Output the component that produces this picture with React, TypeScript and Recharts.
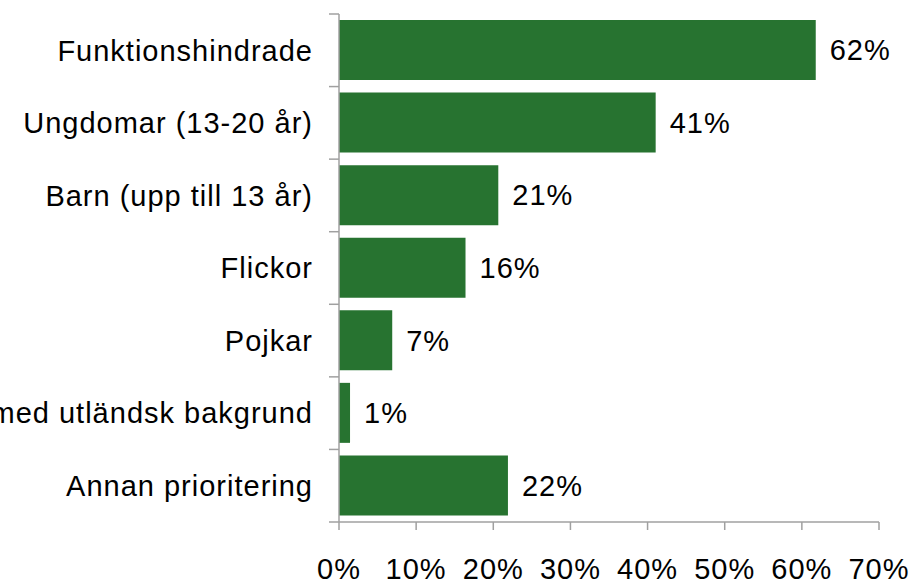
import React from "react";
import { BarChart, Bar, XAxis, YAxis, LabelList } from "recharts";

const categories = [
  "Funktionshindrade",
  "Ungdomar (13-20 år)",
  "Barn (upp till 13 år)",
  "Flickor",
  "Pojkar",
  "Personer med utländsk bakgrund",
  "Annan prioritering",
];
const values = [61.8, 41.05, 20.65, 16.4, 6.9, 1.43, 21.9];
const xTicks = [0, 10, 20, 30, 40, 50, 60, 70];

const data = categories.map((name, i) => ({ name, value: values[i] }));

const FONT = "'Liberation Sans', Arial, Helvetica, sans-serif";
const AXIS = "#a0a0a0";
const textStyle = { fontSize: 29, fill: "#000", fontFamily: FONT, letterSpacing: 1 };
const AXIS_X = 339;

function CategoryTick(props: any) {
  const { x, y, payload, index } = props;
  const half = payload && payload.offset ? payload.offset : 0;
  const last = index === categories.length - 1;
  return (
    <g>
      <line x1={AXIS_X} x2={AXIS_X - 10} y1={y - half} y2={y - half} stroke={AXIS} strokeWidth={1.5} />
      {last ? (
        <line x1={AXIS_X} x2={AXIS_X - 10} y1={y + half} y2={y + half} stroke={AXIS} strokeWidth={1.5} />
      ) : null}
      <text x={x} y={y} dy="0.355em" textAnchor="end" style={textStyle}>
        {payload.value}
      </text>
    </g>
  );
}

export default function App() {
  return (
    <div style={{ position: "absolute", left: 0, top: 0, width: 914, height: 582, background: "#fff" }}>
      <BarChart
        width={914}
        height={582}
        data={data}
        layout="vertical"
        margin={{ top: 14, right: 35, bottom: 0, left: 0 }}
        style={{ overflow: "visible" }}
      >
        <YAxis
          type="category"
          dataKey="name"
          width={AXIS_X}
          axisLine={{ stroke: AXIS, strokeWidth: 1.5 }}
          tickLine={false}
          tickSize={0}
          tickMargin={26}
          interval={0}
          tick={<CategoryTick />}
        />
        <XAxis
          type="number"
          domain={[0, 70]}
          ticks={xTicks}
          tickFormatter={(v: number) => `${v}%`}
          height={60}
          tickSize={8}
          tickMargin={28}
          interval={0}
          axisLine={{ stroke: AXIS, strokeWidth: 1.5 }}
          tickLine={{ stroke: AXIS, strokeWidth: 1.5 }}
          tick={textStyle}
        />
        <Bar dataKey="value" fill="#277330" barSize={60} isAnimationActive={false}>
          <LabelList
            dataKey="value"
            position="right"
            offset={14}
            formatter={(v: number) => `${Math.round(v)}%`}
            style={textStyle}
          />
        </Bar>
      </BarChart>
    </div>
  );
}
